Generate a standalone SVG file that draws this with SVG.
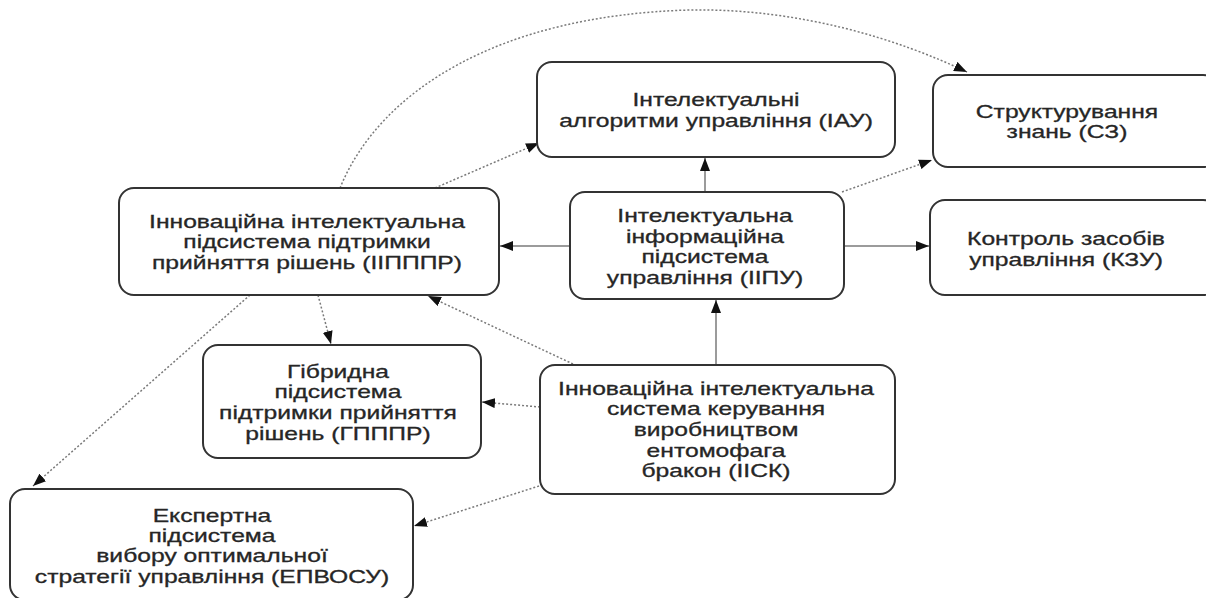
<svg xmlns="http://www.w3.org/2000/svg" width="1206" height="598" viewBox="0 0 1206 598">
  <style>
    .box { fill: #ffffff; stroke: #333333; stroke-width: 2; }
    .lbl { font-family: "Liberation Sans", Arial, sans-serif; font-size: 18px; fill: #262626; stroke: #262626; stroke-width: 0.3; text-anchor: middle; }
    .solid { fill: none; stroke: #7a7a7a; stroke-width: 1.5; }
    .dot { fill: none; stroke: #7a7a7a; stroke-width: 1.5; stroke-dasharray: 2 2; }
  </style>
  <defs>
    <marker id="arrow" viewBox="0 0 13 10" markerWidth="13" markerHeight="10" refX="13" refY="5" orient="auto" markerUnits="userSpaceOnUse">
      <path d="M0,0 L13,5 L0,10 Z" fill="#111111"/>
    </marker>
  </defs>

  <rect width="1206" height="598" fill="#ffffff"/>

  <!-- connectors -->
  <g id="connectors">
    <line class="solid" x1="705" y1="192" x2="705" y2="158" marker-end="url(#arrow)"/>
    <line class="solid" x1="570" y1="246" x2="500" y2="246" marker-end="url(#arrow)"/>
    <line class="solid" x1="844" y1="246" x2="929" y2="246" marker-end="url(#arrow)"/>
    <line class="dot" x1="842" y1="192" x2="932" y2="160" marker-end="url(#arrow)"/>
    <line class="dot" x1="435" y1="188" x2="539" y2="143" marker-end="url(#arrow)"/>
    <path class="dot" d="M340,188 C380,90 500,15 690,10 C800,8 900,40 967,72" marker-end="url(#arrow)"/>
    <line class="dot" x1="318" y1="295" x2="331" y2="344" marker-end="url(#arrow)"/>
    <line class="dot" x1="250" y1="295" x2="33" y2="486" marker-end="url(#arrow)"/>
    <line class="solid" x1="716" y1="365" x2="716" y2="300" marker-end="url(#arrow)"/>
    <line class="dot" x1="573" y1="364" x2="428" y2="296" marker-end="url(#arrow)"/>
    <line class="dot" x1="540" y1="407" x2="482" y2="402" marker-end="url(#arrow)"/>
    <line class="dot" x1="539" y1="486" x2="414" y2="526" marker-end="url(#arrow)"/>
  </g>

  <!-- nodes -->
  <g id="iau">
    <rect class="box" x="537" y="62" width="358" height="95" rx="15"/>
    <g transform="translate(716 0) scale(1.37 1)">
      <text class="lbl" x="0" y="106">Інтелектуальні</text>
      <text class="lbl" x="0" y="127">алгоритми управління (ІАУ)</text>
    </g>
  </g>

  <g id="sz">
    <rect class="box" x="933" y="75" width="285" height="92" rx="15"/>
    <g transform="translate(1067 0) scale(1.37 1)">
      <text class="lbl" x="0" y="118">Структурування</text>
      <text class="lbl" x="0" y="138">знань (СЗ)</text>
    </g>
  </g>

  <g id="iipppr">
    <rect class="box" x="119" y="188" width="380" height="107" rx="15"/>
    <g transform="translate(307 0) scale(1.37 1)">
      <text class="lbl" x="0" y="228">Інноваційна інтелектуальна</text>
      <text class="lbl" x="0" y="248">підсистема підтримки</text>
      <text class="lbl" x="0" y="269">прийняття рішень (ІІПППР)</text>
    </g>
  </g>

  <g id="iipu">
    <rect class="box" x="570" y="192" width="274" height="107" rx="15"/>
    <g transform="translate(705 0) scale(1.37 1)">
      <text class="lbl" x="0" y="222">Інтелектуальна</text>
      <text class="lbl" x="0" y="243">інформаційна</text>
      <text class="lbl" x="0" y="263">підсистема</text>
      <text class="lbl" x="0" y="284">управління (ІІПУ)</text>
    </g>
  </g>

  <g id="kzu">
    <rect class="box" x="930" y="200" width="288" height="95" rx="15"/>
    <g transform="translate(1066 0) scale(1.37 1)">
      <text class="lbl" x="0" y="245">Контроль засобів</text>
      <text class="lbl" x="0" y="266">управління (КЗУ)</text>
    </g>
  </g>

  <g id="gpppr">
    <rect class="box" x="203" y="345" width="278" height="113" rx="15"/>
    <g transform="translate(338 0) scale(1.37 1)">
      <text class="lbl" x="0" y="378">Гібридна</text>
      <text class="lbl" x="0" y="398">підсистема</text>
      <text class="lbl" x="0" y="419">підтримки прийняття</text>
      <text class="lbl" x="0" y="440">рішень (ГПППР)</text>
    </g>
  </g>

  <g id="iisk">
    <rect class="box" x="540" y="365" width="355" height="129" rx="15"/>
    <g transform="translate(716 0) scale(1.37 1)">
      <text class="lbl" x="0" y="395">Інноваційна інтелектуальна</text>
      <text class="lbl" x="0" y="415">система керування</text>
      <text class="lbl" x="0" y="436">виробництвом</text>
      <text class="lbl" x="0" y="457">ентомофага</text>
      <text class="lbl" x="0" y="477">бракон (ІІСК)</text>
    </g>
  </g>

  <g id="epvosu">
    <rect class="box" x="10" y="489" width="403" height="111" rx="15"/>
    <g transform="translate(212 0) scale(1.37 1)">
      <text class="lbl" x="0" y="522">Експертна</text>
      <text class="lbl" x="0" y="542">підсистема</text>
      <text class="lbl" x="0" y="562">вибору оптимальної</text>
      <text class="lbl" x="0" y="583">стратегії управління (ЕПВОСУ)</text>
    </g>
  </g>
</svg>
